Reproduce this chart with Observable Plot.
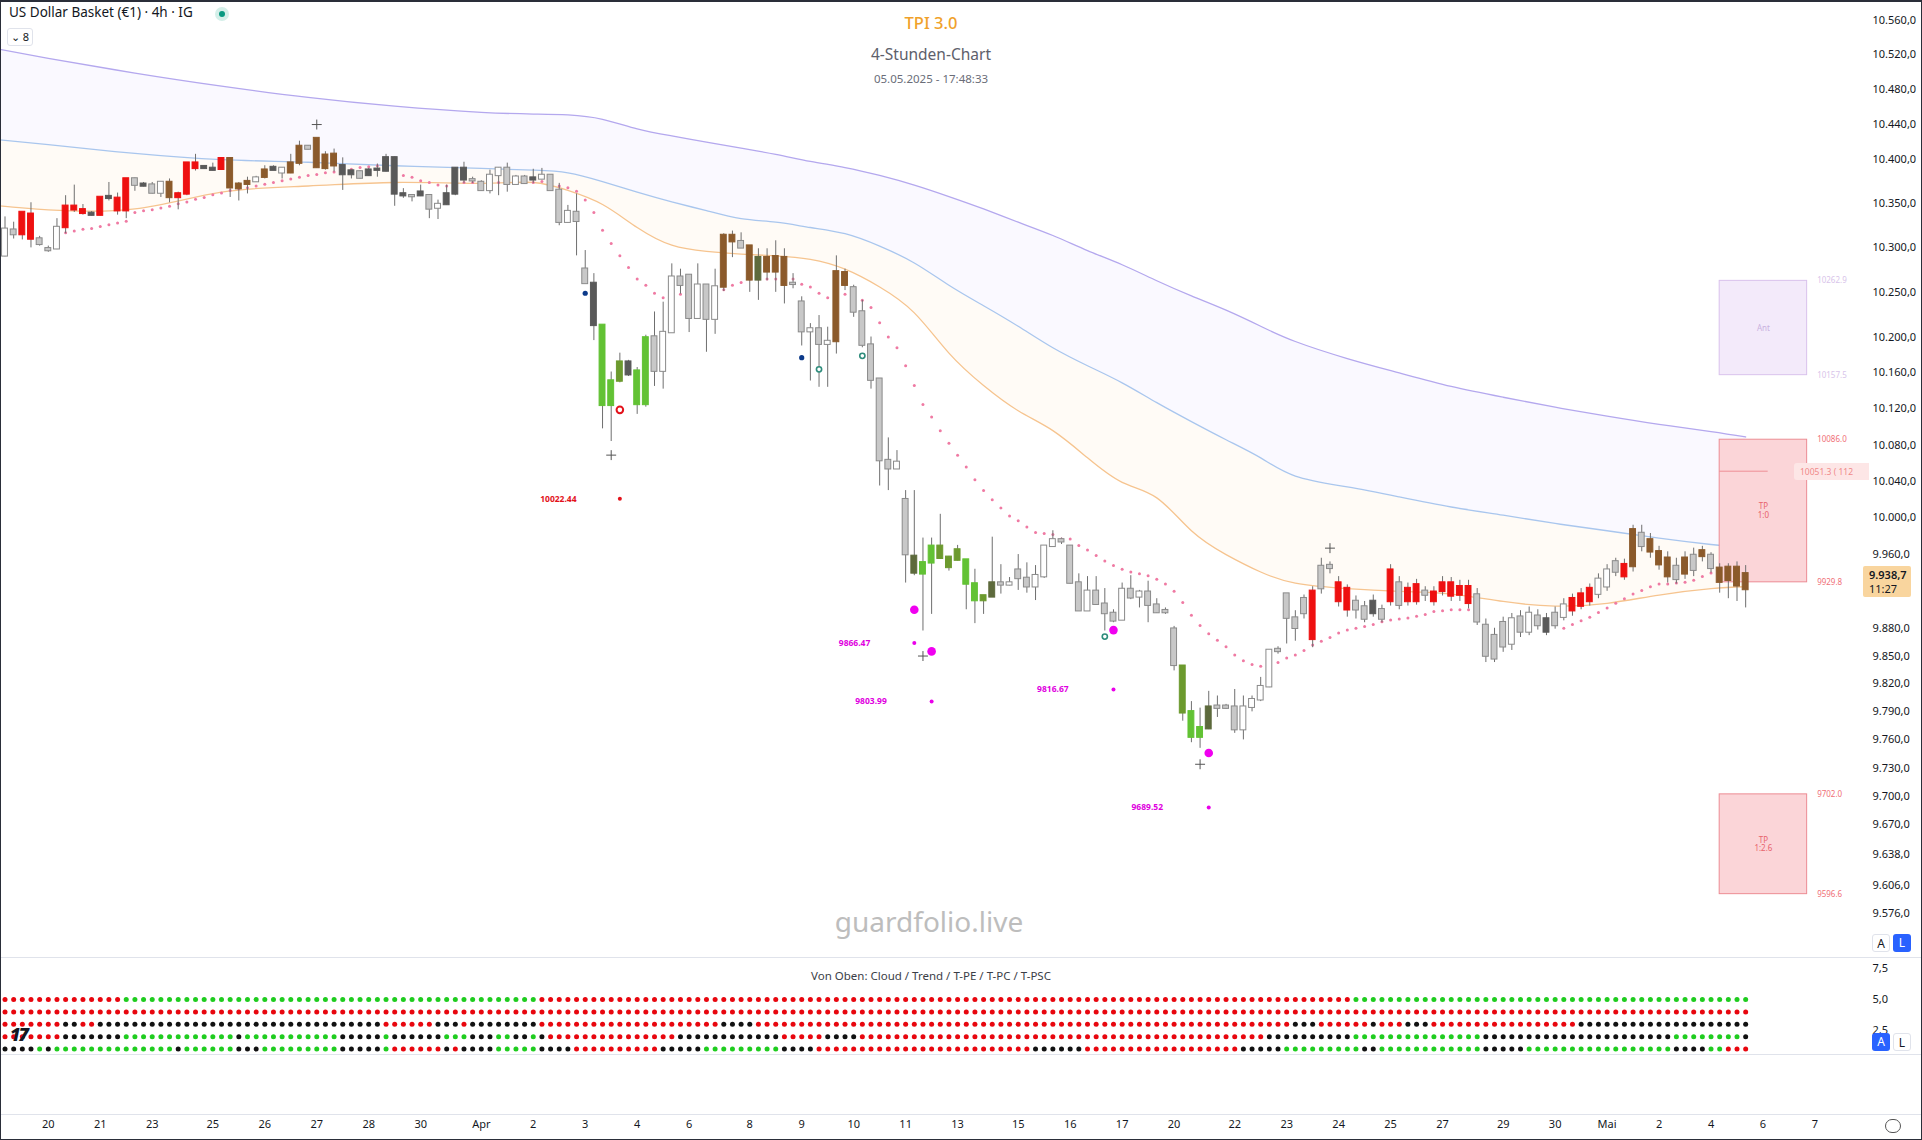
<!DOCTYPE html>
<html><head><meta charset="utf-8">
<script src="https://cdn.jsdelivr.net/npm/d3@7"></script>
<script src="https://cdn.jsdelivr.net/npm/@observablehq/plot@0.6"></script>
<style>
body{margin:0;background:#fff;font-family:"Noto Sans",sans-serif;color:#131722;}
#frame{position:relative;width:1922px;height:1140px;overflow:hidden;background:#fff;}
.abs{position:absolute;white-space:nowrap;}
.pl{position:absolute;left:0;}
.sep{position:absolute;left:0;width:1922px;height:1px;background:#e0e3eb;}
.btn{position:absolute;width:18px;height:18px;font:12px "Noto Sans",sans-serif;line-height:18px;text-align:center;border-radius:3px;box-sizing:border-box;}
</style></head>
<body><div id="frame"></div>
<script>
// ---------------- DATA ----------------
const candleStart = -5;   // bar index of first candle (bar 0 = 20 Mar 00:00, 6 bars per day)
const cKind = [
 "W","G","R","R","G","G","W","R","R","R",  "D","R","D","R","R","G","D","G","W","Br",
 "R","R","R","D","D","R","Br","Br","Br","W", "Br","D","W","Br","Br","G","Br","Br","Br","D",
 "D","G","D","D","D","D","D","G","D","G",  "W","D","D","D","G","G","W","W","G","W",
 "G","D","W","G","G","W","G","G","D","GR", "GR","OL","D","GR","GR","G","W","W","G","G",
 "W","G","W","Br","Br","G","Br","OLD","Br","Br", "Br","G","G","W","G","W","Br","Br","G","G",
 "G","G","G","W","G","OLD","GR","GR","OL","OL", "OL","GR","GR","OL","OLD","G","W","G","G","W",
 "W","W","G","G","G","W","G","G","G","W",  "G","W","G","G","G","G","OL","GR","GR","OLD",
 "G","G","G","W","W","W","W","G","G","G",  "G","R","G","G","R","R","G","G","D","G",
 "R","G","R","R","G","R","R","R","R","R",  "G","G","G","G","W","G","W","G","D","G",
 "W","R","R","R","W","W","G","R","Br","G", "Br","Br","Br","G","Br","G","Br","G","Br","Br",
 "Br","Br"];
const cHigh = [
 10335,10329,10340,10351,10313,10302,10333,10359,10371,10349, 10341,10357,10374,10362,10378,10379,10374,10374,10374,10378,
 10363,10396,10406,10393,10396,10402,10402,10374,10380,10381, 10393,10393,10391,10406,10421,10416,10424,10409,10412,10402,
 10388,10387,10390,10395,10406,10403,10367,10360,10371,10359, 10354,10371,10391,10397,10380,10376,10388,10391,10396,10382,
 10382,10389,10390,10382,10373,10348,10361,10297,10271,10213, 10161,10182,10174,10166,10202,10228,10239,10282,10276,10269,
 10282,10258,10276,10316,10319,10317,10302,10299,10299,10308, 10299,10271,10245,10215,10224,10211,10291,10276,10258,10241,
 10200,10153,10088,10074,10030,10030,9978,9978,10004,9958, 9970,9954,9944,9915,9979,9949,9935,9960,9951,9948,
 9969,9986,9978,9969,9939,9936,9936,9923,9900,9929, 9937,9921,9931,9912,9902,9882,9839,9801,9794,9812,
 9807,9798,9814,9807,9807,9827,9856,9860,9917,9899, 9916,9925,9956,9952,9936,9927,9915,9909,9916,9905,
 9949,9936,9929,9933,9925,9925,9936,9935,9932,9932, 9923,9890,9880,9892,9896,9899,9903,9900,9896,9903,
 9912,9917,9923,9928,9939,9949,9956,9955,9992,9992, 9983,9969,9963,9956,9963,9967,9969,9962,9950,9950,
 9952,9948];
const cOpen = [   // upper edge of the body
 10321,10320,10340,10338,10310,10299,10323,10347,10347,10343, 10339,10357,10358,10356,10378,10378,10372,10371,10374,10374,
 10361,10396,10396,10392,10390,10401,10401,10372,10375,10379, 10388,10391,10390,10396,10415,10415,10424,10405,10406,10393,
 10387,10386,10388,10389,10402,10402,10361,10359,10363,10359, 10349,10361,10390,10390,10377,10374,10382,10390,10390,10380,
 10380,10379,10382,10382,10365,10341,10340,10276,10260,10213, 10151,10172,10172,10162,10199,10200,10205,10267,10267,10269,
 10258,10258,10256,10314,10314,10307,10302,10289,10289,10290, 10289,10260,10239,10209,10209,10195,10273,10272,10255,10228,
 10191,10153,10063,10061,10020,9958,9951,9969,9969,9957, 9965,9954,9928,9915,9929,9929,9929,9943,9934,9937,
 9969,9976,9976,9969,9929,9920,9920,9906,9896,9922, 9922,9919,9919,9905,9899,9879,9839,9790,9773,9795,
 9796,9796,9795,9795,9803,9817,9856,9857,9917,9891, 9912,9920,9947,9948,9929,9923,9909,9903,9909,9900,
 9943,9929,9923,9927,9920,9919,9929,9929,9925,9925, 9916,9883,9872,9886,9890,9892,9896,9893,9890,9896,
 9905,9912,9917,9923,9933,9943,9952,9949,9987,9983, 9976,9963,9956,9947,9956,9959,9964,9959,9945,9946,
 9946,9939];
const cClose = [  // lower edge of the body
 10291,10315,10315,10310,10304,10297,10299,10323,10343,10339, 10337,10337,10356,10342,10342,10371,10370,10362,10362,10357,
 10357,10361,10390,10390,10388,10389,10368,10367,10372,10375, 10380,10388,10385,10385,10396,10412,10391,10390,10393,10383,
 10383,10379,10382,10388,10387,10361,10359,10358,10359,10344, 10345,10349,10361,10377,10376,10365,10365,10382,10372,10372,
 10373,10377,10378,10365,10329,10329,10330,10260,10213,10124, 10124,10151,10158,10125,10125,10162,10162,10205,10258,10221,
 10221,10220,10220,10256,10307,10300,10264,10264,10273,10273, 10258,10259,10206,10206,10192,10192,10195,10258,10228,10191,
 10152,10063,10054,10054,9960,9940,9939,9951,9956,9946, 9954,9928,9910,9910,9914,9927,9927,9934,9925,9925,
 9936,9969,9974,9929,9899,9899,9906,9896,9888,9889, 9913,9914,9905,9897,9897,9840,9789,9763,9763,9772,
 9794,9794,9771,9771,9795,9803,9817,9855,9891,9880, 9896,9868,9923,9945,9909,9900,9900,9890,9896,9890,
 9909,9905,9909,9909,9916,9909,9920,9915,9916,9907, 9887,9850,9847,9860,9863,9876,9876,9883,9876,9883,
 9892,9899,9904,9909,9917,9925,9941,9936,9947,9969, 9963,9949,9936,9933,9939,9943,9958,9945,9930,9932,
 9926,9922];
const cLow = [
 10290,10310,10309,10300,10302,10295,10298,10316,10340,10337, 10336,10336,10353,10337,10333,10364,10369,10361,10357,10351,
 10343,10359,10387,10389,10387,10388,10357,10353,10361,10374, 10378,10388,10378,10384,10393,10411,10390,10388,10386,10365,
 10378,10378,10381,10380,10386,10347,10356,10352,10358,10333, 10332,10348,10359,10373,10373,10364,10361,10359,10363,10371,
 10372,10373,10377,10365,10325,10328,10291,10260,10196,10098, 10084,10149,10156,10114,10122,10145,10142,10205,10248,10205,
 10221,10183,10203,10251,10289,10300,10250,10241,10263,10250, 10237,10254,10190,10151,10144,10144,10181,10252,10222,10188,
 10142,10035,10030,10054,9929,9937,9877,9895,9955,9942, 9953,9900,9885,9895,9914,9917,9926,9921,9918,9910,
 9934,9968,9971,9928,9899,9899,9905,9877,9886,9889, 9911,9902,9886,9896,9895,9834,9780,9757,9751,9771,
 9784,9793,9767,9760,9790,9801,9816,9852,9863,9866, 9890,9859,9917,9939,9903,9892,9890,9886,9892,9886,
 9904,9900,9904,9905,9909,9904,9915,9909,9909,9901, 9883,9843,9843,9854,9856,9870,9872,9878,9872,9879,
 9888,9893,9900,9904,9912,9920,9936,9932,9941,9963, 9956,9943,9929,9928,9933,9936,9952,9940,9918,9912,
 9909,9902];

// trailing-stop dots (bar 1 .. 196), null = no dot
const trailStart = 1;
const trail = [
 10316,10317,10319,10321,10322,10324,10326,10328,10330,10340, 10342,10343,10345,10347,10350,10352,10355,10357,10360,10362,
 10365,10367,10368,10370,10372,10374,10376,10378,10380,10382, 10383,10385,10386,10388,10389,10391,10392,10393,10394,null,
 10382,10380,10376,10374,10371,10370,10373,10374,10374,10374, 10374,10374,10374,10374,10374,10374,10375,10373,10370,10368,
 10364,10354,10340,10320,10305,10291,10278,10265,10258,10249, 10244,10246,10248,10250,10251,10252,10252,10253,10258,10261,
 10265,10265,10265,10265,10265,10265,10259,10256,10249,10244, 10246,10248,10243,10241,10233,10216,10200,10188,10168,10146,
 10125,10111,10096,10082,10069,10056,10042,10030,10020,10011, 10002,9997,9990,9984,9983,9982,9977,9977,9970,9965,
 9959,9953,9948,9944,9941,9939,9937,9933,9928,9920, 9908,9894,9883,9874,9867,9860,9851,9845,9841,9839,
 null,9843,9848,9851,9856,9862,9866,9870,9875,9878, 9880,9882,9884,9887,9889,9890,9891,9893,9895,9898,
 9899,9900,9900,9900,null,null,null,null,null,null, null,null,null,null,9880,9884,9888,9892,9897,9902,
 9907,9912,9917,9921,9925,9928,9928,9929,9930,9932, 9936,9940,null,null,null,null];

// moving averages sampled at bar indices
const maIdx    = [-6,0,10,20,30,40,50,56,60,64,68,72,76,80,84,88,92,96,100,104,108,112,116,120,124,128,132,136,140,144,150,156,162,168,174,180,186,192,196];
const maSlow   = [10527,10516,10499,10484,10471,10461,10454,10452,10451,10446,10435,10427,10420,10413,10406,10398,10391,10382,10371,10358,10344,10329,10314,10297,10281,10263,10246,10230,10212,10195,10176,10160,10145,10133,10122,10112,10103,10095,10089];
const maMid    = [10423,10417,10407,10400,10397,10393,10390,10388,10385,10375,10363,10352,10342,10333,10329,10323,10316,10302,10283,10258,10235,10212,10188,10168,10149,10127,10106,10086,10066,10046,10034,10023,10012,10003,9994,9986,9978,9971,9967];
const maFast   = [10348,10343,10344,10363,10370,10374,10373,10374,10365,10349,10323,10303,10296,10293,10291,10287,10276,10256,10227,10182,10146,10118,10096,10066,10039,10022,9986,9960,9941,9929,9923,9920,9917,9909,9904,9907,9916,9923,9925];

// markers
const plusMarks   = [{i:31,p:10440},{i:65,p:10069},{i:101,p:9850},{i:133,p:9734},{i:148,p:9967}];
const blueDots    = [{i:62,p:10249},{i:87,p:10177}];
const tealRings   = [{i:89,p:10164},{i:94,p:10179},{i:122,p:9871}];
const redRings    = [{i:66,p:10119}];
const bigMagenta  = [{i:100,p:9900},{i:102,p:9855},{i:123,p:9878},{i:134,p:9746}];
const smallMagenta= [{i:100,p:9864},{i:102,p:9801},{i:123,p:9814},{i:134,p:9688}];
const magentaText = [{t:"9866.47",i:93.1,p:9864},{t:"9803.99",i:95.0,p:9801},{t:"9816.67",i:116,p:9814},{t:"9689.52",i:126.9,p:9688}];
const redDot      = [{i:66,p:10021}];
const redText     = [{t:"10022.44",i:58.9,p:10021}];

// target / entry boxes
const boxes = [
  {name:"Ant",  lines:["Ant"],        hi:10262.9, lo:10157.5, kind:"ant"},
  {name:"TP1",  lines:["TP","1:0"],   hi:10086.0, lo:9929.8,  kind:"tp"},
  {name:"TP2",  lines:["TP","1:2.6"], hi:9702.0,  lo:9596.6,  kind:"tp"}
];
const boxFrom = 193, boxTo = 203.1, entryPrice = 10051.3, entryTo = 198.6;

const yTicks = [10560,10520,10480,10440,10400,10350,10300,10250,10200,10160,10120,10080,10040,10000,9960,9880,9850,9820,9790,9760,9730,9700,9670,9638,9606,9576];
const lastPrice = 9938.7;

// indicator rows (run-length: colour, count), bars -5..196
const indRows = [
  {name:"Cloud", level:5, runs:[["R",14],["G",48],["R",94],["G",46]]},
  {name:"Trend", level:4, runs:[["R",202]]},
  {name:"T-PE",  level:3, runs:[["R",7],["K",2],["R",2],["K",33],["R",6],["K",3],["R",1],["K",8],["R",21],["K",4],["R",62],["K",3],["R",6],["K",1],["R",3],["K",3],["R",17],["K",20]]},
  {name:"T-PC",  level:2, runs:[["R",7],["K",7],["G",13],["K",1],["G",11],["K",5],["G",1],["K",6],["G",3],["K",3],["G",2],["K",2],["G",1],["K",1],["R",15],["K",12],["R",5],["K",4],["R",47],["K",10],["G",15],["K",22],["G",8],["K",1]]},
  {name:"T-PSC", level:1, runs:[["K",4],["G",1],["K",1],["G",14],["K",1],["G",6],["K",3],["G",9],["K",5],["G",1],["R",6],["K",1],["R",1],["K",4],["G",5],["K",4],["R",10],["K",5],["G",9],["K",4],["R",25],["K",6],["R",18],["K",5],["G",9],["K",2],["G",12],["K",5],["G",17],["K",4],["G",2],["R",3]]}
];
const indTicks = [7.5,5.0,2.5];

// time axis
const timeTicks = [[0,"20"],[6,"21"],[12,"23"],[19,"25"],[25,"26"],[31,"27"],[37,"28"],[43,"30"],[50,"Apr"],[56,"2"],[62,"3"],[68,"4"],[74,"6"],[81,"8"],[87,"9"],[93,"10"],[99,"11"],[105,"13"],[112,"15"],[118,"16"],[124,"17"],[130,"20"],[137,"22"],[143,"23"],[149,"24"],[155,"25"],[161,"27"],[168,"29"],[174,"30"],[180,"Mai"],[186,"2"],[192,"4"],[198,"6"],[204,"7"]];

// ---------------- BUILD ----------------
const frame = document.getElementById("frame");
const X0 = 47.8, DX = 8.66, PANE_R = 1863;
const xScale = {type:"linear", domain:[(0-X0)/DX, (PANE_R-X0)/DX], range:[0,PANE_R], axis:null};
const de = d3.formatLocale({decimal:",", thousands:".", grouping:[3], currency:["",""]});
const fmtPrice = de.format(",.1f");

const candles = cKind.map((k,j)=>({i:candleStart+j,k,h:cHigh[j],o:cOpen[j],c:cClose[j],l:cLow[j]}));
const trailPts = trail.map((p,j)=>({i:trailStart+j,p})).filter(d=>d.p!=null);
const ma = maIdx.map((i,j)=>({i,slow:maSlow[j],mid:maMid[j],fast:maFast[j]}));

const FILL = {W:"#ffffff",G:"#c8c8c8",D:"#595959",R:"#ee1010",Br:"#8b5a2b",GR:"#62c234",OL:"#6c9a2e",OLD:"#5d6a3c"};
const STROKE = {W:"#8a8a8a",G:"#8a8a8a",D:"#595959",R:"#ee1010",Br:"#8b5a2b",GR:"#62c234",OL:"#6c9a2e",OLD:"#5d6a3c"};

const yMain = {type:"log", domain:[9530.3,10582.7], range:[957,0]};

const main = Plot.plot({
  width:1922, height:957, marginLeft:0, marginRight:59, marginTop:0, marginBottom:0,
  x:xScale, y:yMain, color:{type:"identity"},
  style:{background:"transparent", fontFamily:"Noto Sans, sans-serif", color:"#131722"},
  marks:[
    Plot.areaY(ma,{x:"i",y1:"mid",y2:"slow",fill:"#faf9ff",curve:"natural",clip:true}),
    Plot.areaY(ma,{x:"i",y1:"fast",y2:"mid",fill:"#fffbf6",curve:"natural",clip:true}),
    Plot.line(ma,{x:"i",y:"slow",stroke:"#b4a8ee",strokeWidth:1.3,curve:"natural",clip:true}),
    Plot.line(ma,{x:"i",y:"mid",stroke:"#a9c6ee",strokeWidth:1.3,curve:"natural",clip:true}),
    Plot.line(ma,{x:"i",y:"fast",stroke:"#f6c48f",strokeWidth:1.3,curve:"natural",clip:true}),
    // boxes
    Plot.rect(boxes,{x1:()=>boxFrom,x2:()=>boxTo,y1:"lo",y2:"hi",
      fill:d=>d.kind==="tp"?"#fbd5d8":"#f3eafa",
      stroke:d=>d.kind==="tp"?"#ec8c94":"#d9c2ec",
      strokeDasharray:d=>d.kind==="tp"?null:"4,3", strokeWidth:1}),
    Plot.ruleY([entryPrice],{x1:boxFrom,x2:entryTo,stroke:"#ee8e95",strokeWidth:1}),
    Plot.text(boxes,{x:()=> (boxFrom+boxTo)/2, y:d=>Math.sqrt(d.hi*d.lo), text:d=>d.lines.join("\n"),
      fill:d=>d.kind==="tp"?"#e8636c":"#c9b2df", fontSize:8, lineHeight:1.1}),
    Plot.text(boxes,{x:()=>boxTo,y:"hi",text:d=>d.hi.toFixed(1),dx:10,textAnchor:"start",fontSize:8,
      fill:d=>d.kind==="tp"?"#f07077":"#d8c4ea"}),
    Plot.text(boxes,{x:()=>boxTo,y:"lo",text:d=>d.lo.toFixed(1),dx:10,textAnchor:"start",fontSize:8,
      fill:d=>d.kind==="tp"?"#f07077":"#d8c4ea"}),
    // trailing dots
    Plot.dot(trailPts,{x:"i",y:"p",r:1.5,fill:"#ef7aa3",stroke:null}),
    // candles
    Plot.ruleX(candles,{x:"i",y1:"l",y2:"h",stroke:"#6f6f6f",strokeWidth:1}),
    Plot.rect(candles,{x1:d=>d.i-0.34,x2:d=>d.i+0.34,y1:d=>Math.max(d.o,d.c)+0.8,y2:d=>Math.min(d.o,d.c)-0.8,
      fill:d=>FILL[d.k],stroke:d=>STROKE[d.k],strokeWidth:1}),
    // markers
    Plot.dot(plusMarks,{x:"i",y:"p",symbol:"plus",r:3.3,stroke:"#555",strokeWidth:1}),
    Plot.dot(blueDots,{x:"i",y:"p",r:2.6,fill:"#0c3a8a",stroke:null}),
    Plot.dot(tealRings,{x:"i",y:"p",r:2.6,fill:"#fff",stroke:"#2f8c7c",strokeWidth:1.6}),
    Plot.dot(redRings,{x:"i",y:"p",r:3.3,fill:"#fff",stroke:"#e3121b",strokeWidth:2}),
    Plot.dot(bigMagenta,{x:"i",y:"p",r:4.3,fill:"#f000f0",stroke:null}),
    Plot.dot(smallMagenta,{x:"i",y:"p",r:2,fill:"#ea00ea",stroke:null}),
    Plot.dot(redDot,{x:"i",y:"p",r:2,fill:"#e3121b",stroke:null}),
    Plot.text(magentaText,{x:"i",y:"p",text:"t",fill:"#e000e0",fontSize:8.5,fontWeight:"bold"}),
    Plot.text(redText,{x:"i",y:"p",text:"t",fill:"#e3121b",fontSize:8.5,fontWeight:"bold"}),
    Plot.axisY({anchor:"right",ticks:yTicks,tickFormat:fmtPrice,tickSize:0,tickPadding:9,fontSize:11,label:null})
  ]
});
main.classList.add("pl"); main.style.top="0px";
frame.appendChild(main);

// indicator pane
const indPts = [];
indRows.forEach(r=>{let i=candleStart; r.runs.forEach(([c,n])=>{for(let k=0;k<n;k++){indPts.push({i:i++,lvl:r.level,c});}});});
const INDC = {R:"#e8060e",G:"#1fcc1f",K:"#111111"};
const ind = Plot.plot({
  width:1922, height:97, marginLeft:0, marginRight:59, marginTop:0, marginBottom:0,
  x:xScale, y:{type:"linear",domain:[0.5645,8.387],range:[97,0]}, color:{type:"identity"},
  style:{background:"transparent", fontFamily:"Noto Sans, sans-serif", color:"#131722"},
  marks:[
    Plot.dot(indPts,{x:"i",y:"lvl",r:2.5,fill:d=>INDC[d.c],stroke:null}),
    Plot.axisY({anchor:"right",ticks:indTicks,tickFormat:de.format(".1f"),tickSize:0,tickPadding:9,fontSize:11,label:null})
  ]
});
ind.classList.add("pl"); ind.style.top="957px";
frame.appendChild(ind);

// time axis pane
const tt = timeTicks.map(([i,label])=>({i,label}));
const tax = Plot.plot({
  width:1922, height:86, marginLeft:0, marginRight:59, marginTop:0, marginBottom:0,
  x:xScale, style:{background:"transparent", fontFamily:"Noto Sans, sans-serif", color:"#131722"},
  marks:[ Plot.text(tt,{x:"i",text:"label",frameAnchor:"bottom",dy:-13,fontSize:11,fill:"#131722"}) ]
});
tax.classList.add("pl"); tax.style.top="1054px";
frame.appendChild(tax);

// ---------------- overlays ----------------
function add(html){frame.insertAdjacentHTML("beforeend",html);}
add(`<div class="sep" style="top:957px"></div><div class="sep" style="top:1054px"></div><div class="sep" style="top:1114px"></div>`);
add(`<div class="abs" style="left:9px;top:3px;font-size:13.5px;color:#131722">US Dollar Basket (€1) · 4h · IG</div>`);
add(`<div class="abs" style="left:215px;top:7px;width:14px;height:14px;border-radius:7px;background:#d4efe9"></div><div class="abs" style="left:219px;top:11px;width:6px;height:6px;border-radius:3px;background:#089981"></div>`);
add(`<div class="abs" style="left:7px;top:28px;width:26px;height:18px;border:1px solid #e0e3eb;border-radius:3px;box-sizing:border-box;font-size:11px;line-height:16px;text-align:center;color:#131722">⌄ 8</div>`);
add(`<div class="abs" style="left:0;width:1862px;top:11px;text-align:center;font-size:16.5px;font-weight:500;color:#f0a12a">TPI 3.0</div>`);
add(`<div class="abs" style="left:0;width:1862px;top:43px;text-align:center;font-size:15.5px;color:#5d606b">4-Stunden-Chart</div>`);
add(`<div class="abs" style="left:0;width:1862px;top:71px;text-align:center;font-size:11.5px;color:#6a6d78">05.05.2025 - 17:48:33</div>`);
add(`<div class="abs" style="left:0;width:1858px;top:902px;text-align:center;font-size:28px;color:#bdbdbd">guardfolio.live</div>`);
add(`<div class="abs" style="left:0;width:1862px;top:968px;text-align:center;font-size:11.5px;color:#3b3e47">Von Oben: Cloud / Trend / T-PE / T-PC / T-PSC</div>`);
add(`<div class="abs" style="left:1863px;top:566px;width:48px;height:31px;background:#f9d59e;border-radius:2px;font-size:11px;line-height:14px;padding:2px 0 0 6px;box-sizing:border-box;color:#131722"><b style="font-weight:600">${fmtPrice(lastPrice)}</b><br>11:27</div>`);
add(`<div class="abs" style="left:1794px;top:463px;width:69px;height:17px;background:#fde6e6;border-radius:3px 0 0 3px;font-size:8.5px;line-height:17px;padding-left:6px;color:#f08a8a;overflow:hidden">${entryPrice.toFixed(1)} ( 112</div>`);
add(`<div class="btn" style="left:1872px;top:934px;border:1px solid #e0e3eb;color:#131722;background:#fff">A</div><div class="btn" style="left:1893px;top:934px;background:#2962ff;color:#fff">L</div>`);
add(`<div class="btn" style="left:1872px;top:1033px;background:#2962ff;color:#fff">A</div><div class="btn" style="left:1893px;top:1033px;border:1px solid #e0e3eb;color:#131722;background:#fff">L</div>`);
add(`<div class="abs" style="left:10px;top:1022px;font-size:18px;font-weight:900;font-style:italic;color:#131722;letter-spacing:-2px">17</div>`);
add(`<div class="abs" style="left:1885px;top:1119px;width:16px;height:14px;border:1.5px solid #555;border-radius:7px;box-sizing:border-box"></div>`);
add(`<div class="abs" style="left:0;top:0;width:1922px;height:1140px;box-sizing:border-box;border:1px solid #2a2e39;border-top:2px solid #2a2e39;pointer-events:none"></div>`);
</script>
</body></html>
